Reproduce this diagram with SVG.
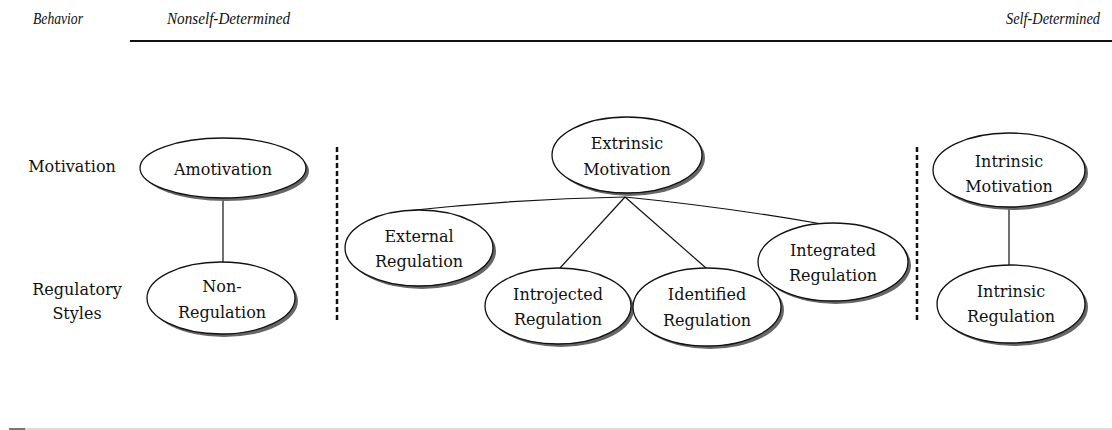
<svg xmlns="http://www.w3.org/2000/svg" width="1112" height="430" viewBox="0 0 1112 430">
  <style>
    text { font-family: "DejaVu Serif", "Liberation Serif", serif; font-size: 16px; fill: #111; }
    .head { font-family: "Liberation Serif", "DejaVu Serif", serif; font-size: 16px; font-style: italic; }
    .mid { text-anchor: middle; }
    .node { fill: #fff; stroke: #111; stroke-width: 1.3; }
    .shadow { fill: #666; }
    .link { stroke: #111; stroke-width: 1.2; fill: none; }
    .divider { stroke: #111; stroke-width: 2.5; stroke-dasharray: 5 3; }
    .rule { stroke: #111; stroke-width: 2; }
  </style>
  <rect width="1112" height="430" fill="#fff"/>

  <!-- header -->
  <g id="header">
    <text class="head" x="33" y="24" textLength="50" lengthAdjust="spacingAndGlyphs">Behavior</text>
    <text class="head" x="167" y="24" textLength="123" lengthAdjust="spacingAndGlyphs">Nonself-Determined</text>
    <text class="head" x="1006" y="24" textLength="94" lengthAdjust="spacingAndGlyphs">Self-Determined</text>
    <line class="rule" x1="130" y1="41" x2="1112" y2="41"/>
  </g>

  <!-- row labels -->
  <g id="row-labels">
    <text class="mid" x="72" y="172">Motivation</text>
    <text class="mid" x="77" y="295">Regulatory</text>
    <text class="mid" x="77" y="319">Styles</text>
  </g>

  <!-- section dividers -->
  <g id="dividers">
    <line class="divider" x1="337" y1="147" x2="337" y2="323"/>
    <line class="divider" x1="917" y1="147" x2="917" y2="323"/>
  </g>

  <!-- connectors -->
  <g id="connectors">
    <line class="link" x1="223" y1="198" x2="223" y2="262"/>
    <line class="link" x1="1009" y1="207" x2="1009" y2="265"/>
    <path class="link" d="M625 197 Q515 199 405 211"/>
    <path class="link" d="M625 197 Q725 207 822 224"/>
    <line class="link" x1="625" y1="197" x2="560" y2="268"/>
    <line class="link" x1="625" y1="197" x2="706" y2="268"/>
  </g>

  <g id="amotivation">
    <ellipse class="shadow" cx="226" cy="171" rx="83" ry="30"/>
    <ellipse class="node" cx="223" cy="168" rx="83" ry="30"/>
    <text class="mid" x="223" y="175">Amotivation</text>
  </g>

  <g id="non-regulation">
    <ellipse class="shadow" cx="224" cy="301" rx="74" ry="36"/>
    <ellipse class="node" cx="221" cy="298" rx="74" ry="36"/>
    <text class="mid" x="222" y="292">Non-</text>
    <text class="mid" x="222" y="318">Regulation</text>
  </g>

  <g id="extrinsic-motivation">
    <ellipse class="shadow" cx="630" cy="158" rx="75" ry="38"/>
    <ellipse class="node" cx="627" cy="155" rx="75" ry="38"/>
    <text class="mid" x="627" y="149">Extrinsic</text>
    <text class="mid" x="627" y="175">Motivation</text>
  </g>

  <g id="external-regulation">
    <ellipse class="shadow" cx="422" cy="251" rx="74" ry="38"/>
    <ellipse class="node" cx="419" cy="248" rx="74" ry="38"/>
    <text class="mid" x="419" y="242">External</text>
    <text class="mid" x="419" y="267">Regulation</text>
  </g>

  <g id="introjected-regulation">
    <ellipse class="shadow" cx="561" cy="309" rx="73" ry="38"/>
    <ellipse class="node" cx="558" cy="306" rx="73" ry="38"/>
    <text class="mid" x="558" y="300">Introjected</text>
    <text class="mid" x="558" y="325">Regulation</text>
  </g>

  <g id="identified-regulation">
    <ellipse class="shadow" cx="710" cy="310" rx="74" ry="39"/>
    <ellipse class="node" cx="707" cy="307" rx="74" ry="39"/>
    <text class="mid" x="707" y="300">Identified</text>
    <text class="mid" x="707" y="326">Regulation</text>
  </g>

  <g id="integrated-regulation">
    <ellipse class="shadow" cx="836" cy="265" rx="75" ry="39"/>
    <ellipse class="node" cx="833" cy="262" rx="75" ry="39"/>
    <text class="mid" x="833" y="256">Integrated</text>
    <text class="mid" x="833" y="281">Regulation</text>
  </g>

  <g id="intrinsic-motivation">
    <ellipse class="shadow" cx="1012" cy="173" rx="76" ry="37"/>
    <ellipse class="node" cx="1009" cy="170" rx="76" ry="37"/>
    <text class="mid" x="1009" y="167">Intrinsic</text>
    <text class="mid" x="1009" y="192">Motivation</text>
  </g>

  <g id="intrinsic-regulation">
    <ellipse class="shadow" cx="1014" cy="307" rx="74" ry="39"/>
    <ellipse class="node" cx="1011" cy="304" rx="74" ry="39"/>
    <text class="mid" x="1011" y="297">Intrinsic</text>
    <text class="mid" x="1011" y="322">Regulation</text>
  </g>

  <!-- footer rule -->
  <g id="footer">
    <line x1="25" y1="429" x2="1112" y2="429" stroke="#dcdcdc" stroke-width="2"/>
    <line x1="9" y1="429" x2="25" y2="429" stroke="#777" stroke-width="2"/>
  </g>
</svg>
